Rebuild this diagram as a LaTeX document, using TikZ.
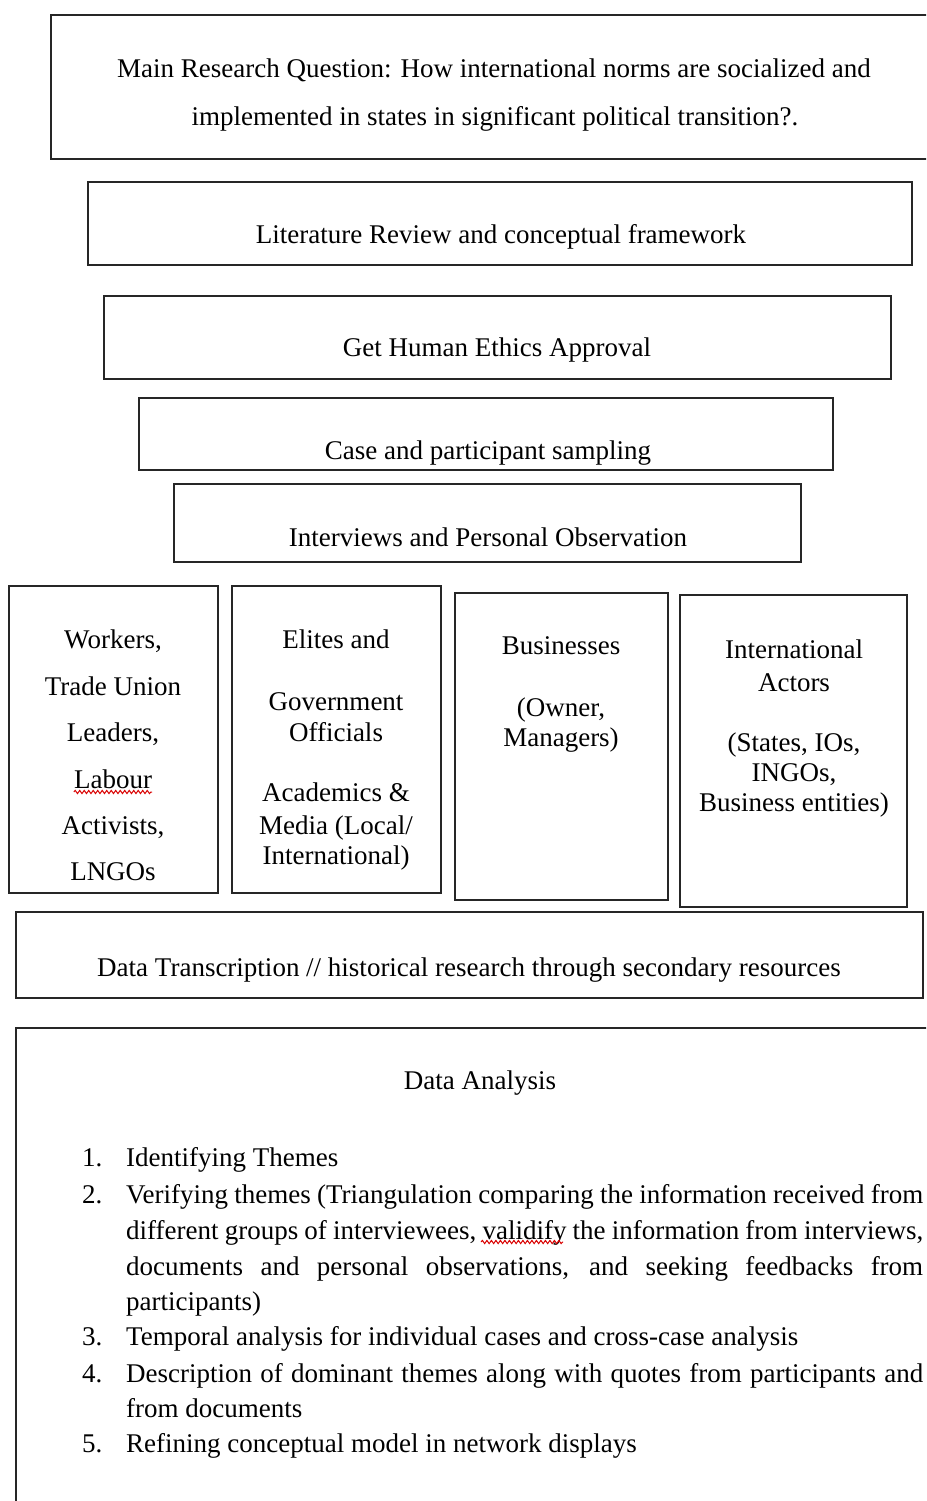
\documentclass[tikz,border=0pt]{standalone}
\usepackage{fontspec}
\setmainfont{Liberation Serif}
\usetikzlibrary{fit,decorations.pathmorphing}
\begin{document}
\begin{tikzpicture}[x=1pt,y=-1pt,
  box/.style={draw=black!85, line width=2pt, inner sep=0pt},
  txt/.style={font=\fontsize{27}{30}\selectfont, inner sep=0pt, anchor=base},
  ltxt/.style={font=\fontsize{27}{30}\selectfont, inner sep=0pt, anchor=base west},
  squig/.style={draw=red!85!black, line width=1pt, decorate,
    decoration={snake, amplitude=1.6pt, segment length=4.5pt}}]
\useasboundingbox (0,0) rectangle (926,1501);
\clip (0,0) rectangle (926,1501);

% boxes
\node[box, fit={(51,15) (940,159)}] (mainbox) {};
\node[box, fit={(88,182) (912,265)}] (litbox) {};
\node[box, fit={(104,296) (891,379)}] (ethbox) {};
\node[box, fit={(139,398) (833,470)}] (casebox) {};
\node[box, fit={(174,484) (801,562)}] (intbox) {};
\node[box, fit={(9,586) (218,893)}] (wbox) {};
\node[box, fit={(232,586) (441,893)}] (ebox) {};
\node[box, fit={(455,593) (668,900)}] (bbox) {};
\node[box, fit={(680,595) (907,907)}] (iabox) {};
\node[box, fit={(16,912) (923,998)}] (dtbox) {};
\node[box, fit={(16,1028) (940,1520)}] (dabox) {};

% texts
\node[txt] (m1) at (494,78) {Main Research Question: How international norms are socialized and};
\node[txt] (m2) at (495,125) {implemented in states in significant political transition?.};
\node[txt] (lit) at (501,243) {Literature Review and conceptual framework};
\node[txt] (eth) at (497,356) {Get Human Ethics Approval};
\node[txt] (case) at (488,459) {Case and participant sampling};
\node[txt] (intv) at (488,546) {Interviews and Personal Observation};

\foreach \t/\y [count=\i] in {{Workers,}/648, {Trade Union}/695, {Leaders,}/741, {Labour}/788, {Activists,}/834, {LNGOs}/880}
  \node[txt] (w\i) at (113,\y) {\t};
\foreach \t/\y [count=\i] in {{Elites and}/648, {Government}/710, {Officials}/741, {Academics \&}/801, {Media (Local/}/834, {International)}/864}
  \node[txt] (e\i) at (336,\y) {\t};
\foreach \t/\y [count=\i] in {{Businesses}/654, {(Owner,}/716, {Managers)}/746}
  \node[txt] (b\i) at (561,\y) {\t};
\foreach \t/\y [count=\i] in {{International}/658, {Actors}/691, {(States, IOs,}/751, {INGOs,}/781, {Business entities)}/811}
  \node[txt] (ia\i) at (794,\y) {\t};

\node[txt] (dt) at (469,976) {Data Transcription // historical research through secondary resources};
\node[txt] (da) at (480,1089) {Data Analysis};

% list
\node[ltxt] (n1) at (82,1166) {1.};
\node[ltxt] (n2) at (82,1203) {2.};
\node[ltxt] (n3) at (82,1345) {3.};
\node[ltxt] (n4) at (82,1382) {4.};
\node[ltxt] (n5) at (82,1452) {5.};
\node[ltxt] (l1) at (126,1166) {Identifying Themes};
\node[ltxt] (l2a) at (126,1203) {\makebox[797pt][s]{Verifying themes (Triangulation comparing the information received from}};
\node[ltxt] (l2b) at (126,1239) {\makebox[797pt][s]{different groups of interviewees, validify the information from interviews,}};
\node[ltxt] (l2c) at (126,1275) {\makebox[797pt][s]{documents and personal observations, and seeking feedbacks from}};
\node[ltxt] (l2d) at (126,1310) {participants)};
\node[ltxt] (l3) at (126,1345) {Temporal analysis for individual cases and cross-case analysis};
\node[ltxt] (l4a) at (126,1382) {\makebox[797pt][s]{Description of dominant themes along with quotes from participants and}};
\node[ltxt] (l4b) at (126,1417) {from documents};
\node[ltxt] (l5) at (126,1452) {Refining conceptual model in network displays};

% spell-check underlines
\path (w4.base west) ++(0,4) coordinate (sqa);
\path (w4.base east) ++(0,4) coordinate (sqb);
\draw[squig] (sqa) -- (sqb);
\coordinate (sqc) at (481,1242);
\coordinate (sqd) at (563,1242);
\draw[squig] (sqc) -- (sqd);
\end{tikzpicture}
\end{document}
